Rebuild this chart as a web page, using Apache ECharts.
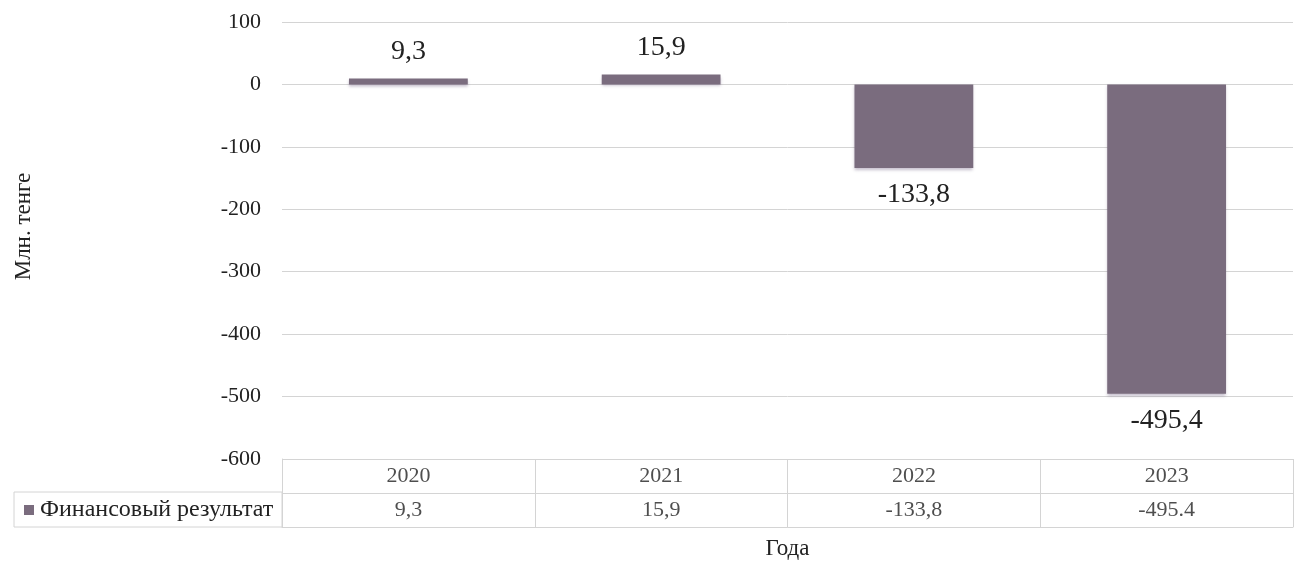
<!DOCTYPE html>
<html>
<head>
<meta charset="utf-8">
<script src="https://cdn.jsdelivr.net/npm/echarts@6/dist/echarts.min.js"></script>
<style>html,body{margin:0;padding:0;background:#fff}#c{width:1303px;height:562px}</style>
</head>
<body>
<div id="c"></div>
<script>
const categories = ['2020', '2021', '2022', '2023'];
const seriesName = 'Финансовый результат';
const values = [9.3, 15.9, -133.8, -495.4];
const barLabels = ['9,3', '15,9', '-133,8', '-495,4'];
const tableLabels = ['9,3', '15,9', '-133,8', '-495.4'];
const yTicks = { min: -600, max: 100, interval: 100 };
const rows = ['values', 'years'];

const FONT = '"Liberation Serif", "DejaVu Serif", serif';
const BAR = '#7a6c7e';
const LINE = '#d4d4d4';
const TXT = '#222';

const chart = echarts.init(document.getElementById('c'), null, { renderer: 'canvas' });

const tableCells = [];
categories.forEach((c, i) => {
  tableCells.push({ value: [i, 1], text: c });
  tableCells.push({ value: [i, 0], text: tableLabels[i] });
});

chart.setOption({
  animation: false,
  textStyle: { fontFamily: FONT },
  grid: [
    { left: 282, right: 10, top: 22, bottom: 103, outerBoundsMode: 'none', containLabel: false },
    { left: 282, right: 10, top: 459, height: 68, outerBoundsMode: 'none', containLabel: false }
  ],
  xAxis: [
    {
      gridIndex: 0, type: 'category', data: categories,
      axisLine: { show: false }, axisTick: { show: false }, axisLabel: { show: false }
    },
    {
      gridIndex: 1, type: 'category', data: categories, boundaryGap: true,
      axisLine: { show: true, lineStyle: { color: LINE } },
      axisTick: { show: false }, axisLabel: { show: false },
      splitLine: { show: true, lineStyle: { color: LINE } },
      name: 'Года', nameLocation: 'middle', nameGap: 10,
      nameTextStyle: { fontFamily: FONT, fontSize: 23, color: TXT, verticalAlign: 'top' }
    }
  ],
  yAxis: [
    {
      gridIndex: 0, type: 'value', min: yTicks.min, max: yTicks.max, interval: yTicks.interval,
      axisLine: { show: false }, axisTick: { show: false },
      axisLabel: { fontFamily: FONT, fontSize: 22, color: TXT, margin: 21 },
      splitLine: { lineStyle: { color: LINE } },
      name: 'Млн. тенге', nameLocation: 'middle', nameGap: 247,
      nameTextStyle: { fontFamily: FONT, fontSize: 23, color: TXT, padding: [0, 0, 0, 28] }
    },
    {
      gridIndex: 1, type: 'category', data: rows,
      axisLine: { show: true, lineStyle: { color: LINE } },
      axisTick: { show: false }, axisLabel: { show: false },
      splitLine: { show: true, lineStyle: { color: LINE } }
    }
  ],
  series: [
    {
      name: seriesName, type: 'bar', xAxisIndex: 0, yAxisIndex: 0,
      barWidth: '47%',
      itemStyle: { color: BAR, shadowColor: 'rgba(90,70,110,0.35)', shadowBlur: 3, shadowOffsetY: 2 },
      label: {
        show: true, fontFamily: FONT, fontSize: 28, color: TXT, distance: 13,
        formatter: p => barLabels[p.dataIndex]
      },
      data: values.map(v => ({ value: v, label: { position: v >= 0 ? 'top' : 'bottom' } }))
    },
    {
      type: 'scatter', xAxisIndex: 1, yAxisIndex: 1, symbolSize: 0, silent: true,
      label: {
        show: true, position: 'inside', fontFamily: FONT, fontSize: 22, color: TXT,
        formatter: p => p.data.text
      },
      data: tableCells
    }
  ],
  graphic: [
    {
      type: 'rect', shape: { x: 14, y: 492, width: 268, height: 35 },
      style: { fill: 'none', stroke: LINE, lineWidth: 1 }
    },
    {
      type: 'rect', shape: { x: 24, y: 505, width: 10, height: 10 },
      style: { fill: BAR }
    },
    {
      type: 'text', x: 40, y: 510,
      style: { text: seriesName, font: '24px ' + FONT, fill: TXT, verticalAlign: 'middle' }
    }
  ]
});
</script>
</body>
</html>
